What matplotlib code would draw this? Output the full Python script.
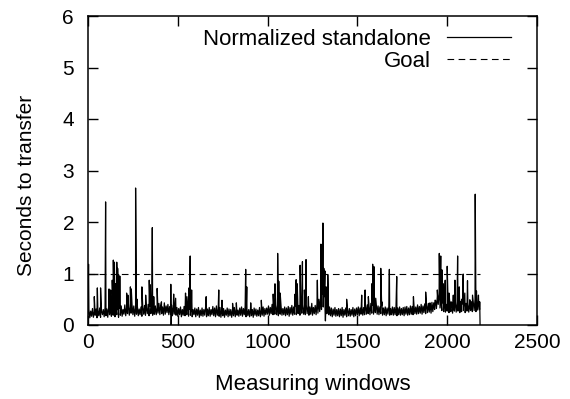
import matplotlib
matplotlib.use("Agg")
import matplotlib.pyplot as plt
import numpy as np

plt.rcParams['font.family'] = ['Liberation Sans', 'DejaVu Sans']

# noise floor, one reading every 5 measuring windows (0 .. 2180)
base_seconds = [
    0.2, 0.3, 0.14, 0.27, 0.17, 0.32, 0.15, 0.26, 0.19, 0.31,
    0.14, 0.28, 0.18, 0.33, 0.15, 0.27, 0.2, 0.3, 0.16, 0.34,
    0.18, 0.31, 0.15, 0.36, 0.2, 0.29, 0.17, 0.38, 0.19, 0.32,
    0.16, 0.35, 0.2, 0.3, 0.15, 0.33, 0.19, 0.37, 0.17, 0.3,
    0.21, 0.39, 0.18, 0.34, 0.22, 0.41, 0.19, 0.35, 0.23, 0.4,
    0.2, 0.37, 0.17, 0.33, 0.21, 0.36, 0.18, 0.31, 0.2, 0.35,
    0.17, 0.34, 0.21, 0.38, 0.19, 0.33, 0.22, 0.4, 0.18, 0.36,
    0.22, 0.35, 0.19, 0.41, 0.21, 0.37, 0.2, 0.34, 0.23, 0.42,
    0.2, 0.38, 0.22, 0.35, 0.19, 0.43, 0.21, 0.37, 0.24, 0.4,
    0.2, 0.36, 0.22, 0.39, 0.18, 0.35, 0.21, 0.41, 0.19, 0.34,
    0.17, 0.32, 0.2, 0.35, 0.16, 0.3, 0.19, 0.36, 0.18, 0.33,
    0.2, 0.37, 0.17, 0.31, 0.19, 0.34, 0.16, 0.3, 0.2, 0.33,
    0.16, 0.31, 0.19, 0.34, 0.15, 0.29, 0.18, 0.33, 0.17, 0.3,
    0.19, 0.35, 0.16, 0.31, 0.18, 0.34, 0.17, 0.3, 0.2, 0.36,
    0.18, 0.33, 0.16, 0.37, 0.19, 0.31, 0.17, 0.34, 0.15, 0.3,
    0.18, 0.32, 0.15, 0.29, 0.19, 0.33, 0.16, 0.31, 0.18, 0.3,
    0.15, 0.3, 0.18, 0.34, 0.16, 0.31, 0.19, 0.29, 0.17, 0.33,
    0.19, 0.35, 0.17, 0.32, 0.2, 0.36, 0.16, 0.31, 0.18, 0.3,
    0.16, 0.32, 0.18, 0.3, 0.15, 0.33, 0.19, 0.31, 0.17, 0.29,
    0.18, 0.34, 0.16, 0.3, 0.19, 0.35, 0.17, 0.32, 0.2, 0.33,
    0.21, 0.37, 0.19, 0.34, 0.22, 0.4, 0.2, 0.36, 0.21, 0.38,
    0.2, 0.39, 0.18, 0.33, 0.21, 0.36, 0.19, 0.32, 0.2, 0.35,
    0.18, 0.33, 0.2, 0.36, 0.17, 0.34, 0.21, 0.38, 0.19, 0.35,
    0.21, 0.37, 0.2, 0.42, 0.22, 0.38, 0.19, 0.36, 0.23, 0.4,
    0.21, 0.36, 0.2, 0.39, 0.22, 0.37, 0.19, 0.35, 0.21, 0.38,
    0.19, 0.34, 0.22, 0.38, 0.2, 0.41, 0.23, 0.45, 0.26, 0.5,
    0.3, 0.6, 0.35, 0.55, 0.28, 0.44, 0.22, 0.38, 0.2, 0.35,
    0.18, 0.33, 0.16, 0.31, 0.19, 0.34, 0.17, 0.3, 0.18, 0.32,
    0.16, 0.31, 0.18, 0.34, 0.15, 0.3, 0.19, 0.33, 0.16, 0.29,
    0.18, 0.32, 0.17, 0.3, 0.19, 0.34, 0.16, 0.31, 0.18, 0.33,
    0.2, 0.35, 0.18, 0.33, 0.21, 0.36, 0.19, 0.34, 0.2, 0.37,
    0.21, 0.39, 0.22, 0.36, 0.2, 0.42, 0.23, 0.38, 0.21, 0.36,
    0.24, 0.4, 0.21, 0.37, 0.2, 0.35, 0.22, 0.38, 0.19, 0.33,
    0.2, 0.35, 0.18, 0.33, 0.21, 0.36, 0.19, 0.32, 0.2, 0.35,
    0.19, 0.34, 0.2, 0.36, 0.18, 0.33, 0.2, 0.35, 0.19, 0.32,
    0.2, 0.34, 0.18, 0.35, 0.21, 0.36, 0.19, 0.33, 0.2, 0.37,
    0.21, 0.36, 0.2, 0.38, 0.22, 0.35, 0.21, 0.39, 0.22, 0.36,
    0.23, 0.4, 0.21, 0.37, 0.24, 0.41, 0.22, 0.38, 0.24, 0.42,
    0.25, 0.41, 0.23, 0.44, 0.26, 0.43, 0.3, 0.48, 0.32, 0.55,
    0.4, 0.6, 0.33, 0.47, 0.28, 0.43, 0.26, 0.45, 0.25, 0.4,
    0.27, 0.42, 0.24, 0.4, 0.26, 0.44, 0.23, 0.41, 0.27, 0.43,
    0.25, 0.45, 0.27, 0.42, 0.24, 0.46, 0.26, 0.41, 0.28, 0.48,
    0.24, 0.42, 0.27, 0.44, 0.25, 0.4, 0.28, 0.45, 0.26, 0.44,
    0.28, 0.5, 0.26, 0.45, 0.29, 0.47, 0.3,
]
base_windows = np.arange(0, 5 * len(base_seconds), 5)

# spikes / dips
spike_windows = [
    3, 35, 52, 70, 98, 117, 126, 135, 141, 147, 152, 160, 165, 170, 177,
    215, 222, 236, 241, 265, 274, 300, 321, 341, 347, 358, 366, 385, 409,
    461, 463, 477, 488, 543, 551, 562, 569, 577, 658, 728, 746, 805, 826,
    878, 884, 906, 965, 1031, 1041, 1056, 1062, 1070, 1153, 1159, 1165,
    1181, 1194, 1205, 1214, 1227, 1246, 1277, 1286, 1297, 1302, 1308, 1313,
    1319, 1322, 1326, 1335, 1440, 1524, 1543, 1561, 1580, 1585, 1593, 1602,
    1630, 1636, 1678, 1719, 1812, 1880, 1904, 1932, 1945, 1956, 1964, 1971,
    1978, 1989, 2000, 2010, 2021, 2034, 2043, 2058, 2067, 2080, 2089, 2098,
    2113, 2126, 2141, 2156, 2163, 2174, 2181, 2183,
]
spike_seconds = [
    1.18, 0.55, 0.72, 0.72, 2.39, 0.7, 0.68, 0.87, 1.26, 1.22, 0.8, 1.22, 1.1, 0.98, 0.95,
    0.62, 0.58, 0.74, 0.7, 2.66, 0.5, 0.74, 0.58, 0.87, 0.78, 1.89, 0.55, 0.71, 0.45,
    0.79, 0.0, 0.6, 0.52, 0.62, 0.55, 0.72, 1.34, 0.68, 0.55, 0.68, 0.48, 0.42, 0.43,
    1.08, 0.74, 0.43, 0.48, 0.6, 0.8, 1.39, 0.85, 0.62, 0.6, 0.88, 0.8,
    1.16, 1.23, 0.68, 1.27, 0.55, 0.42, 0.87, 0.5, 1.57, 1.13, 1.98, 1.1,
    1.05, 0.08, 0.74, 0.97, 0.5, 0.58, 0.68, 0.55, 0.8, 1.18, 1.13, 0.52,
    1.1, 0.45, 1.08, 0.94, 0.55, 0.64, 0.43, 0.48, 0.68, 1.39, 1.34, 1.07,
    0.8, 0.87, 1.14, 0.62, 0.45, 0.58, 0.87, 1.34, 0.74, 0.5, 0.99, 0.62,
    0.86, 0.49, 0.58, 2.54, 0.66, 0.58, 0.45, 0.0,
]

goal_windows = [0, 2183]
goal_seconds = [1.0, 1.0]

windows = np.concatenate([base_windows, spike_windows])
seconds = np.concatenate([base_seconds, spike_seconds])
order = np.argsort(windows, kind='stable')
windows, seconds = windows[order], seconds[order]

fig = plt.figure(figsize=(5.70, 3.99), dpi=100)
ax = fig.add_axes([88 / 570, 1 - 325 / 399, 449 / 570, 309 / 399])

ax.plot(windows, seconds, color='black', linewidth=0.9, label='Normalized standalone')
ax.plot(goal_windows, goal_seconds, color='black', linewidth=0.8,
        linestyle=(0, (6, 4)), label='Goal')

ax.set_xlim(0, 2500)
ax.set_ylim(0, 6)
ax.set_xticks(range(0, 2501, 500))
ax.set_yticks(range(0, 7))
ax.tick_params(direction='in', length=7, width=1.0, top=True, right=True,
               labelsize=15)
ax.tick_params(axis='x', pad=6)
ax.tick_params(axis='y', pad=10)
for s in ax.spines.values():
    s.set_linewidth(1.1)

ax.set_xlabel('Measuring windows', fontsize=16)
ax.set_ylabel('Seconds to transfer', fontsize=15)
ax.xaxis.set_label_coords(0.5, -0.16)
ax.yaxis.set_label_coords(-0.115, 0.453)

ax.legend(loc='upper right', bbox_to_anchor=(0.977, 1.008), frameon=False,
          markerfirst=False, fontsize=16, handlelength=2.9,
          handletextpad=0.7, labelspacing=0.02, borderpad=0.2)

fig.savefig('out.png', dpi=100)
